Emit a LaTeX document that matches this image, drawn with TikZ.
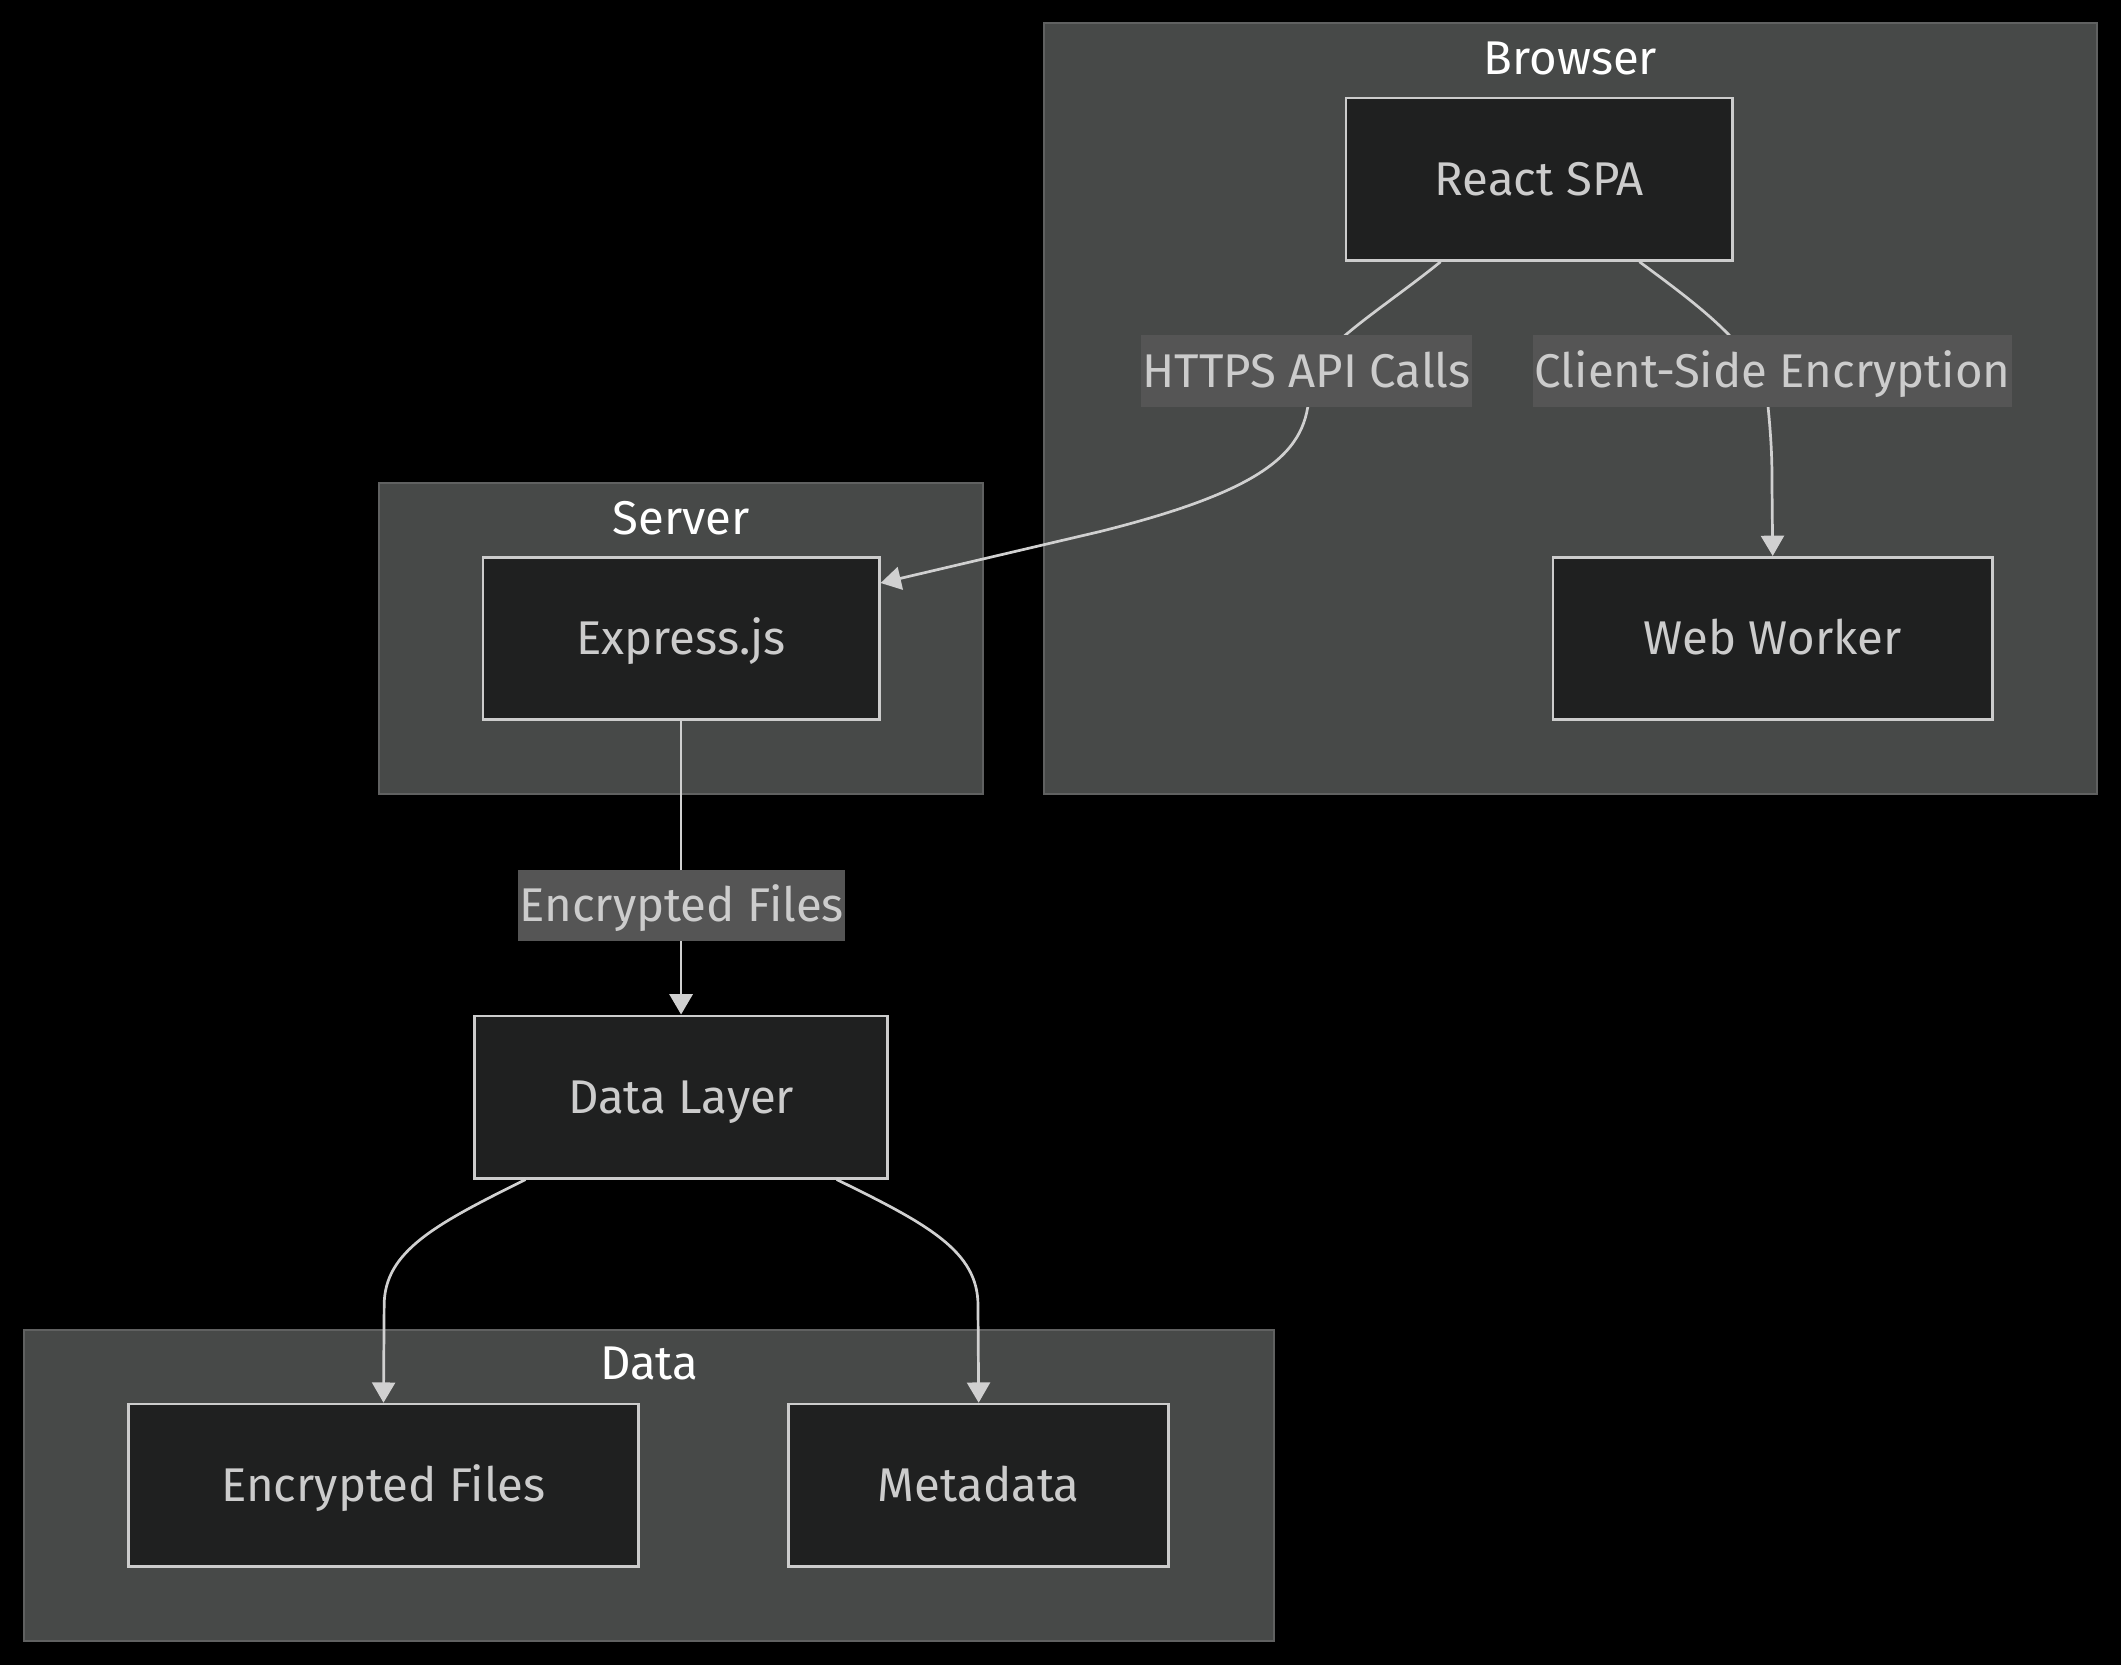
\documentclass[tikz,border=0pt]{standalone}
\usepackage{fontspec}
\setmainfont{Fira Sans}
\usepackage{tikz}
\usetikzlibrary{%
  arrows.meta,% Triangle tips
  positioning,%
  calc%
}
\definecolor{nodefill}{HTML}{1F2020}
\definecolor{nodeline}{HTML}{CCCCCC}
\definecolor{groupfill}{HTML}{474948}
\definecolor{groupline}{HTML}{606161}
\definecolor{labelfill}{HTML}{555555}
\definecolor{textgray}{HTML}{CCCCCC}
\definecolor{edgegray}{HTML}{D0D0D0}

\begin{document}
\begin{tikzpicture}
  [
  x=1pt, y=-1pt,
  font=\fontsize{35pt}{42pt}\selectfont, line width=2pt, >={Triangle[length=15pt,width=17pt]},
  procnode/.style={rectangle, inner sep=0pt, minimum height=120pt, text height=24pt, text depth=0pt, draw=nodeline, fill=nodefill, text=textgray},
  groupbox/.style={draw=groupline, fill=groupfill, line width=1.5pt},
  grouptitle/.style={inner sep=0pt, text height=24pt, text depth=0pt, text=white},
  edgelabel/.style={rectangle, inner xsep=1pt, inner ysep=0pt, minimum height=53pt, text height=24pt, text depth=0pt, fill=labelfill, text=textgray},
  flow/.style={draw=edgegray, ->},
  ]

  \useasboundingbox (0,0) rectangle (1568,1231);
  \fill[black] (0,0) rectangle (1568,1231);

  % groups
  \draw[groupbox] (772,17) rectangle (1550,587);
  \node[grouptitle] (browsertitle) at (1161,43) {Browser};
  \draw[groupbox] (280,357) rectangle (727,587);
  \node[grouptitle] (servertitle) at (503.5,383) {Server};
  \draw[groupbox] (18,983) rectangle (942,1213);
  \node[grouptitle] (datatitle) at (480,1008) {Data};

  % nodes
  \node[procnode, minimum width=286pt] (react) at (1138,132.5) {React SPA};
  \node[procnode, minimum width=325pt] (worker) at (1310.5,472) {Web Worker};
  \node[procnode, minimum width=293pt] (express) at (503.5,472) {Express.js};
  \node[procnode, minimum width=305pt] (datalayer) at (503.5,811) {Data Layer};
  \node[procnode, minimum width=377pt] (encfiles) at (283.5,1098) {Encrypted Files};
  \node[procnode, minimum width=281pt] (meta) at (723.5,1098) {Metadata};

  % edges
  \draw[flow] ([xshift=-73pt]react.south)
    .. controls (1020,230) and (968,260) .. (968,285)
    .. controls (968,330) and (945,360) .. (813,393)
    -- ([yshift=-20pt]express.north east);
  \draw[flow] ([xshift=74pt]react.south)
    .. controls (1250,222) and (1305,260) .. (1307,300)
    .. controls (1310,330) and (1310,345) .. (1310,360)
    -- (worker.north);
  \draw[flow] (express.south) -- (datalayer.north);
  \draw[flow] ([xshift=-115pt]datalayer.south)
    .. controls (322,905) and (284,925) .. (284,965) -- (encfiles.north);
  \draw[flow] ([xshift=115pt]datalayer.south)
    .. controls (686,905) and (723,925) .. (723,965) -- (meta.north);

  % edge labels
  \node[edgelabel] (httpslbl) at (966,274.5) {HTTPS API Calls};
  \node[edgelabel] (clientlbl) at (1310.5,274.5) {Client-Side Encryption};
  \node[edgelabel] (fileslbl) at (504,669.5) {Encrypted Files};
\end{tikzpicture}
\end{document}
